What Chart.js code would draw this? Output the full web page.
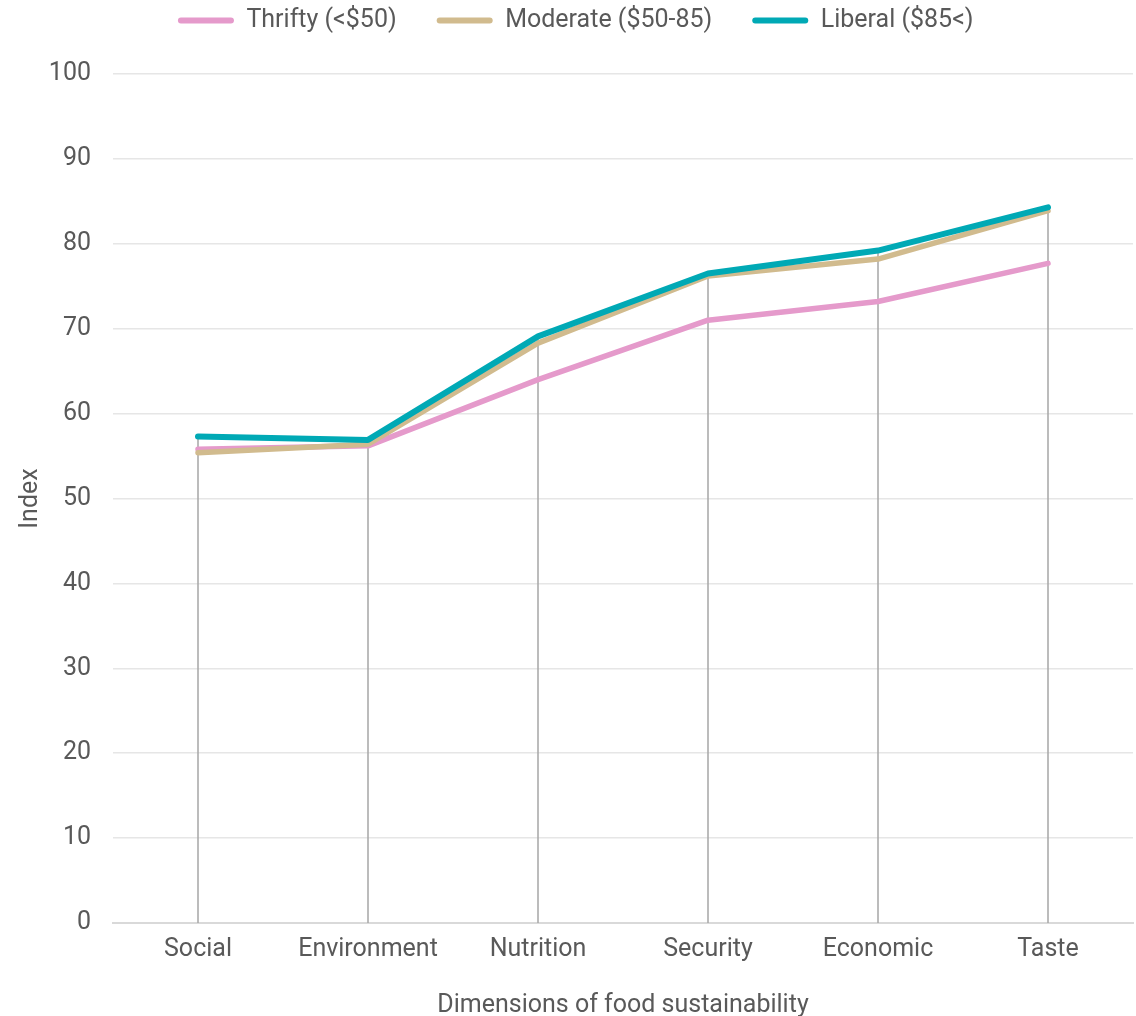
<!DOCTYPE html>
<html>
<head>
<meta charset="utf-8">
<script src="https://cdn.jsdelivr.net/npm/chart.js@4"></script>
<style>
  html, body { margin: 0; padding: 0; background: #ffffff; }
  #wrap { width: 1136px; height: 1016px; position: relative; }
</style>
</head>
<body>
<div id="wrap"><canvas id="c" width="1136" height="1016"></canvas></div>
<script>
const categories = ["Social", "Environment", "Nutrition", "Security", "Economic", "Taste"];
const thrifty = [55.8, 56.2, 64.0, 71.0, 73.2, 77.7];
const moderate = [55.4, 56.4, 68.3, 76.2, 78.2, 83.9];
const liberal = [57.3, 56.9, 69.1, 76.5, 79.2, 84.3];
const seriesNames = ["Thrifty (<$50)", "Moderate ($50-85)", "Liberal ($85<)"];
const yTicks = [0, 10, 20, 30, 40, 50, 60, 70, 80, 90, 100];

const textColor = "#595959";
const fontFamily = "Roboto, 'Liberation Sans', sans-serif";
const fontSize = 25;

const dropLines = {
  id: "dropLines",
  beforeDatasetsDraw(chart) {
    const ctx = chart.ctx;
    const x = chart.scales.x, y = chart.scales.y;
    ctx.save();
    ctx.strokeStyle = "#a6a6a6";
    ctx.lineWidth = 1.5;
    categories.forEach((c, i) => {
      const top = Math.max(...chart.data.datasets.map(d => d.data[i]));
      const px = x.getPixelForValue(i);
      ctx.beginPath();
      ctx.moveTo(px, y.getPixelForValue(top));
      ctx.lineTo(px, y.getPixelForValue(0));
      ctx.stroke();
    });
    ctx.restore();
  }
};

const legendSpace = {
  id: "legendSpace",
  beforeInit(chart) {
    const lg = chart.legend;
    if (!lg) return;
    const fit = lg.fit;
    lg.fit = function () { fit.call(this); this.height = 106; };
  }
};

const common = { pointRadius: 0, borderWidth: 5.5, borderCapStyle: "round", borderJoinStyle: "round", tension: 0, fill: false };

new Chart(document.getElementById("c"), {
  type: "line",
  data: {
    labels: categories,
    datasets: [
      Object.assign({ label: seriesNames[0], data: thrifty, borderColor: "#e59acb", backgroundColor: "#e59acb", order: 3 }, common),
      Object.assign({ label: seriesNames[1], data: moderate, borderColor: "#d1bb8e", backgroundColor: "#d1bb8e", order: 2 }, common),
      Object.assign({ label: seriesNames[2], data: liberal, borderColor: "#00a9b5", backgroundColor: "#00a9b5", order: 1 }, Object.assign({}, common, { borderWidth: 6 }))
    ]
  },
  options: {
    responsive: false,
    animation: false,
    layout: { padding: { left: 18.5, right: 3, top: -32, bottom: 0 } },
    plugins: {
      legend: {
        position: "top",
        labels: {
          sort: (a, b) => a.datasetIndex - b.datasetIndex,
          color: textColor,
          font: { family: fontFamily, size: fontSize },
          boxWidth: 56,
          boxHeight: 6,
          useBorderRadius: true,
          borderRadius: 3,
          padding: 40,
          generateLabels(chart) {
            return chart.data.datasets.map((d, i) => ({
              text: d.label, fillStyle: d.borderColor, strokeStyle: d.borderColor,
              lineWidth: 0, datasetIndex: i, fontColor: textColor, borderRadius: 3
            }));
          }
        }
      },
      tooltip: { enabled: false }
    },
    scales: {
      x: {
        offset: true,
        afterFit(scale) { scale.height = 93; },
        grid: { display: false, drawTicks: false },
        border: { display: true, color: "#d9d9d9", width: 2 },
        ticks: { color: textColor, font: { family: fontFamily, size: fontSize }, padding: 12 },
        title: { display: true, text: "Dimensions of food sustainability", color: textColor, font: { family: fontFamily, size: fontSize, lineHeight: 1 }, padding: { top: 0, bottom: -2 } }
      },
      y: {
        min: 0, max: 100,
        afterFit(scale) { scale.width = 94.5; },
        afterBuildTicks(axis) { axis.ticks = yTicks.map(v => ({ value: v })); },
        grid: { color: "#e6e6e6", lineWidth: 1.5, drawTicks: false },
        border: { display: false },
        ticks: { color: textColor, font: { family: fontFamily, size: fontSize }, padding: 22 },
        title: { display: true, text: "Index", color: textColor, font: { family: fontFamily, size: fontSize, lineHeight: 1 }, padding: { top: 0, bottom: 0 } }
      }
    }
  },
  plugins: [dropLines, legendSpace]
});
</script>
</body>
</html>
